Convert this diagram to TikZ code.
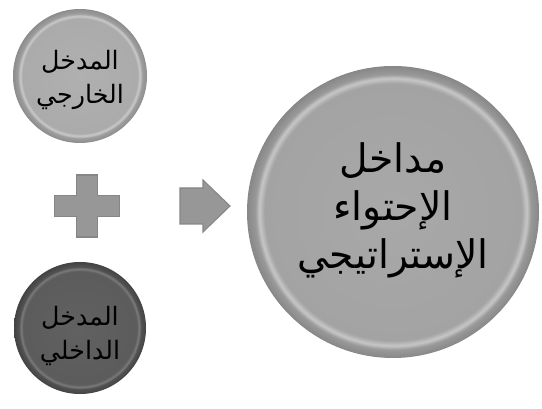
\documentclass[tikz,border=0pt]{standalone}
\usepackage{fontspec}
\newfontfamily\arabicfont[Script=Arabic]{DejaVu Sans}
\TeXXeTstate=1
\pgfdeclareradialshading{btnlight}{\pgfpoint{0bp}{0bp}}{%
  color(0bp)=(black!31); color(21.5bp)=(black!33); color(22.4bp)=(black!20);
  color(23.2bp)=(black!38); color(25bp)=(black!45); color(50bp)=(black!45)}
\pgfdeclareradialshading{btndark}{\pgfpoint{0bp}{0bp}}{%
  color(0bp)=(black!62); color(21.5bp)=(black!64); color(22.4bp)=(black!52);
  color(23.2bp)=(black!68); color(25bp)=(black!74); color(50bp)=(black!74)}
\pgfdeclareradialshading{btnbig}{\pgfpoint{0bp}{0bp}}{%
  color(0bp)=(black!34); color(22bp)=(black!36); color(22.9bp)=(black!22);
  color(23.6bp)=(black!40); color(25bp)=(black!47); color(50bp)=(black!47)}
\definecolor{shapegray}{HTML}{979797}
\definecolor{shapeedge}{HTML}{868686}
\tikzset{
  btn/.style={circle, inner sep=0pt, shading=#1},
  smalltext/.style={align=center, text=black, font=\arabicfont\fontsize{19}{26}\selectfont},
  bigtext/.style={align=center, text=black, font=\arabicfont\fontsize{29.5}{36}\selectfont},
  symb/.style={fill=shapegray, draw=shapeedge, line width=0.8pt}
}
\begin{document}
\begin{tikzpicture}[x=0.75pt,y=-0.75pt]
\useasboundingbox (0,0) rectangle (542,409);
% circles
\node[btn=btnlight, minimum size=100.5pt] (ext) at (80,76) {};
\node[btn=btndark, minimum size=99pt] (int) at (80,328) {};
\node[btn=btnbig, minimum size=219pt] (res) at (393,212) {};
\node[smalltext] (extlabel) at ([yshift=-3pt]ext.center) {\beginR المدخل\endR\\\beginR الخارجي\endR};
\node[smalltext] (intlabel) at ([yshift=-6pt]int.center) {\beginR المدخل\endR\\\beginR الداخلي\endR};
\node[bigtext] (reslabel) at ([yshift=1pt]res.center) {\beginR مداخل\endR\\\beginR الإحتواء\endR\\\beginR الإستراتيجي\endR};
% plus sign
\coordinate (plus) at (87,206);
\draw[symb] ([shift={(-10.5,-31)}]plus) -- ([shift={(10.5,-31)}]plus) -- ([shift={(10.5,-10.5)}]plus)
  -- ([shift={(32.5,-10.5)}]plus) -- ([shift={(32.5,10.5)}]plus) -- ([shift={(10.5,10.5)}]plus)
  -- ([shift={(10.5,31)}]plus) -- ([shift={(-10.5,31)}]plus) -- ([shift={(-10.5,10.5)}]plus)
  -- ([shift={(-32.5,10.5)}]plus) -- ([shift={(-32.5,-10.5)}]plus) -- ([shift={(-10.5,-10.5)}]plus) -- cycle;
% arrow
\coordinate (arr) at (205,206);
\draw[symb] ([shift={(-25,-18)}]arr) -- ([shift={(-2,-18)}]arr) -- ([shift={(-2,-26)}]arr)
  -- ([shift={(25,0)}]arr) -- ([shift={(-2,26)}]arr) -- ([shift={(-2,18)}]arr)
  -- ([shift={(-25,18)}]arr) -- cycle;
\end{tikzpicture}
\end{document}
